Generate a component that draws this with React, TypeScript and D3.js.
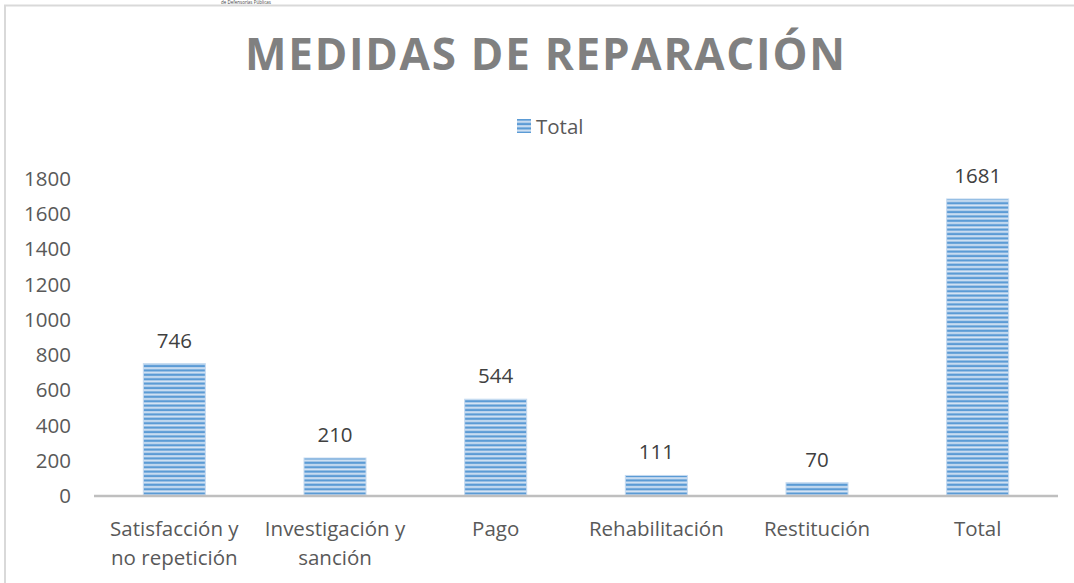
import React from "react";
import * as d3 from "d3";

const categories: string[][] = [
  ["Satisfacción y", "no repetición"],
  ["Investigación y", "sanción"],
  ["Pago"],
  ["Rehabilitación"],
  ["Restitución"],
  ["Total"],
];
const values: number[] = [746, 210, 544, 111, 70, 1681];
const yTicks: number[] = [0, 200, 400, 600, 800, 1000, 1200, 1400, 1600, 1800];
const title = "MEDIDAS DE REPARACIÓN";
const seriesName = "Total";

const W = 1074;
const H = 583;
const plotLeft = 94;
const plotRight = 1058;
const plotTop = 178;
const plotBottom = 495;

export default function App() {
  const x = d3
    .scaleBand<number>()
    .domain(values.map((_, i) => i))
    .range([plotLeft, plotRight])
    .paddingInner(0.614)
    .paddingOuter(0.307);
  const y = d3.scaleLinear().domain([0, 1800]).range([plotBottom, plotTop]);
  const font = "'Open Sans', 'DejaVu Sans', sans-serif";
  const txt = "#595959";
  const fs = 20.5;

  return (
    <svg
      width={W}
      height={H}
      style={{ position: "absolute", left: 0, top: 0, background: "#fff" }}
    >
      <defs>
        <pattern id="hstripe" width="8" height="4.4" patternUnits="userSpaceOnUse">
          <rect width="8" height="4.4" fill="#5b9bd5" />
          <rect y="2.0" width="8" height="2.0" fill="#d6e4f4" />
        </pattern>
      </defs>
      <rect x={0} y={0} width={W} height={H} fill="#fff" />
      {/* chart frame */}
      <rect
        x={5}
        y={5.5}
        width={W + 20}
        height={H + 20}
        fill="none"
        stroke="#d9d9d9"
        strokeWidth={2}
      />
      <text x={221} y={4} fontSize={4.5} fill="#444" fontFamily={font}>
        de Defensorías Públicas
      </text>
      {/* title */}
      <text
        x={545}
        y={70}
        textAnchor="middle"
        fontFamily={font}
        fontWeight={700}
        fontSize={44}
        fill="#808080"
        textLength={600}
        lengthAdjust="spacing"
      >
        {title}
      </text>
      {/* legend */}
      <rect x={517} y={119} width={14} height={14} fill="url(#hstripe)" />
      <text
        x={536}
        y={126}
        dominantBaseline="central"
        fontFamily={font}
        fontSize={fs}
        fill={txt}
      >
        {seriesName}
      </text>
      {/* y tick labels */}
      {yTicks.map((t) => (
        <text
          key={t}
          x={71}
          y={y(t)}
          textAnchor="end"
          dominantBaseline="central"
          fontFamily={font}
          fontSize={fs}
          fill={txt}
        >
          {t}
        </text>
      ))}
      {/* bars */}
      {values.map((v, i) => (
        <g key={i}>
          <rect
            x={x(i)!}
            y={y(v)}
            width={x.bandwidth()}
            height={plotBottom - y(v)}
            fill="url(#hstripe)"
            stroke="#c5daf0"
            strokeWidth={1}
          />
          <text
            x={x(i)! + x.bandwidth() / 2}
            y={y(v) - 24}
            textAnchor="middle"
            dominantBaseline="central"
            fontFamily={font}
            fontSize={fs}
            fill="#404040"
          >
            {v}
          </text>
        </g>
      ))}
      {/* x axis */}
      <line
        x1={plotLeft}
        x2={plotRight}
        y1={plotBottom + 1}
        y2={plotBottom + 1}
        stroke="#bfbfbf"
        strokeWidth={2.5}
      />
      {categories.map((lines, i) =>
        lines.map((ln, j) => (
          <text
            key={`${i}-${j}`}
            x={x(i)! + x.bandwidth() / 2}
            y={528 + j * 29}
            textAnchor="middle"
            dominantBaseline="central"
            fontFamily={font}
            fontSize={fs}
            fill={txt}
          >
            {ln}
          </text>
        ))
      )}
    </svg>
  );
}
